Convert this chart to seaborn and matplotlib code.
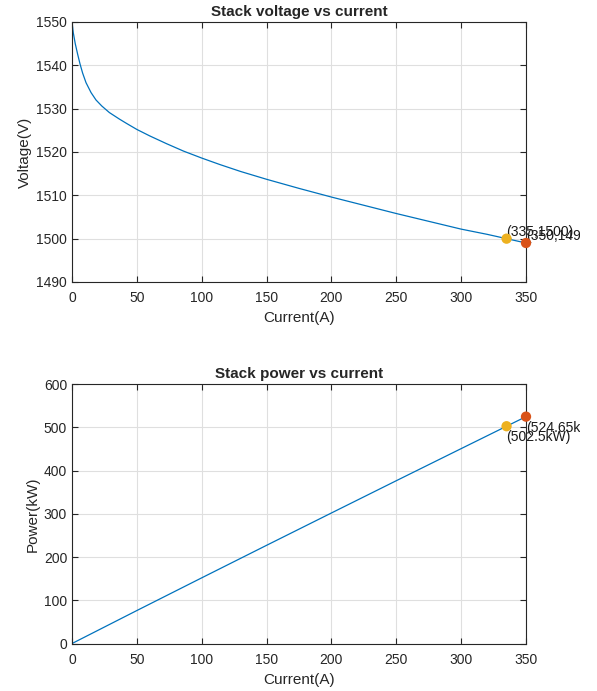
import pandas as pd
import numpy as np
import matplotlib
matplotlib.use("Agg")
import matplotlib.pyplot as plt
import seaborn as sns
from matplotlib.patches import Rectangle

# values
current = [0, 1, 2.5, 4.4, 6.2, 8.2, 10.8, 14.7, 18.5, 23, 28.8, 36.5, 42, 50, 60, 73, 86,
           100, 114, 130, 150, 175, 200, 225, 250, 275, 300, 320, 335, 350]
voltage = [1550, 1547.5, 1545, 1542.5, 1540.3, 1538.2, 1536, 1533.7, 1532, 1530.6, 1529.1,
           1527.6, 1526.6, 1525.2, 1523.7, 1521.9, 1520.2, 1518.6, 1517.1, 1515.5, 1513.7,
           1511.6, 1509.6, 1507.7, 1505.8, 1504.0, 1502.2, 1501.0, 1500, 1499]
power_current = [0, 50, 100, 150, 200, 250, 300, 335, 350]
power_kw = [0, 76.3, 151.9, 227.1, 301.9, 376.5, 450.7, 502.5, 524.65]

mark_current = [335, 350]
mark_voltage = [1500, 1499]
mark_power = [502.5, 524.65]
mark_colors = ['#EDB120', '#D95319']
volt_labels = ['(335,1500)', '(350,1499)']
power_labels = ['(502.5kW)', '(524.65kW)']

sns.set_style("ticks")
plt.rcParams['font.family'] = ['Liberation Sans', 'DejaVu Sans']
plt.rcParams['axes.edgecolor'] = '#262626'
plt.rcParams['xtick.color'] = '#262626'
plt.rcParams['ytick.color'] = '#262626'
plt.rcParams['xtick.direction'] = 'in'
plt.rcParams['ytick.direction'] = 'in'

fig = plt.figure(figsize=(5.97, 6.91), dpi=100)
ax1 = fig.add_axes([0.1206, 0.5919, 0.7605, 0.3763])
ax2 = fig.add_axes([0.1206, 0.0687, 0.7605, 0.3755])

blue = '#0072BD'
# the reference image is cut off at the right, which clips the labels
clip_rect = Rectangle((0, 0), 580 / 597, 1, transform=fig.transFigure, visible=False)

def style(ax, ylabel, title):
    ax.set_xlim(0, 350)
    ax.set_xticks(np.arange(0, 351, 50))
    ax.grid(True, color='#DFDFDF', linewidth=0.8)
    ax.set_axisbelow(True)
    ax.tick_params(labelsize=10, length=4, width=0.8, top=True, right=True)
    ax.tick_params(axis='x', pad=6.5)
    ax.tick_params(axis='y', pad=3.5)
    for s in ax.spines.values():
        s.set_visible(True)
        s.set_linewidth(0.8)
    ax.set_xlabel('Current(A)', fontsize=11, labelpad=4.5)
    ax.set_ylabel(ylabel, fontsize=11, labelpad=3)
    ax.set_title(title, fontsize=11, fontweight='bold', pad=4.5)

# voltage
df_v = pd.DataFrame({'I': current, 'V': voltage})
sns.lineplot(data=df_v, x='I', y='V', ax=ax1, color=blue, linewidth=0.9)
df_mv = pd.DataFrame({'I': mark_current, 'V': mark_voltage, 'c': ['a', 'b']})
sns.scatterplot(data=df_mv, x='I', y='V', hue='c', palette=mark_colors, ax=ax1,
                s=55, edgecolor='none', legend=False, zorder=5, clip_on=False)
ax1.set_ylim(1490, 1550)
ax1.set_yticks(np.arange(1490, 1551, 10))
style(ax1, 'Voltage(V)', 'Stack voltage vs current')
for x, y, t in zip(mark_current, mark_voltage, volt_labels):
    txt = ax1.annotate(t, (x, y), xytext=(0, 5), textcoords='offset points',
                       ha='left', va='center', fontsize=10, color='#1a1a1a',
                       annotation_clip=False)
    txt.set_clip_path(clip_rect)
    txt.set_clip_on(True)

# power
df_p = pd.DataFrame({'I': power_current, 'P': power_kw})
sns.lineplot(data=df_p, x='I', y='P', ax=ax2, color=blue, linewidth=0.9)
df_mp = pd.DataFrame({'I': mark_current, 'P': mark_power, 'c': ['a', 'b']})
sns.scatterplot(data=df_mp, x='I', y='P', hue='c', palette=mark_colors, ax=ax2,
                s=55, edgecolor='none', legend=False, zorder=5, clip_on=False)
ax2.set_ylim(0, 600)
ax2.set_yticks(np.arange(0, 601, 100))
style(ax2, 'Power(kW)', 'Stack power vs current')
for x, y, t in zip(mark_current, mark_power, power_labels):
    txt = ax2.annotate(t, (x, y), xytext=(0, -8), textcoords='offset points',
                       ha='left', va='center', fontsize=10, color='#1a1a1a',
                       annotation_clip=False)
    txt.set_clip_path(clip_rect)
    txt.set_clip_on(True)

fig.savefig('out.png', dpi=100)
